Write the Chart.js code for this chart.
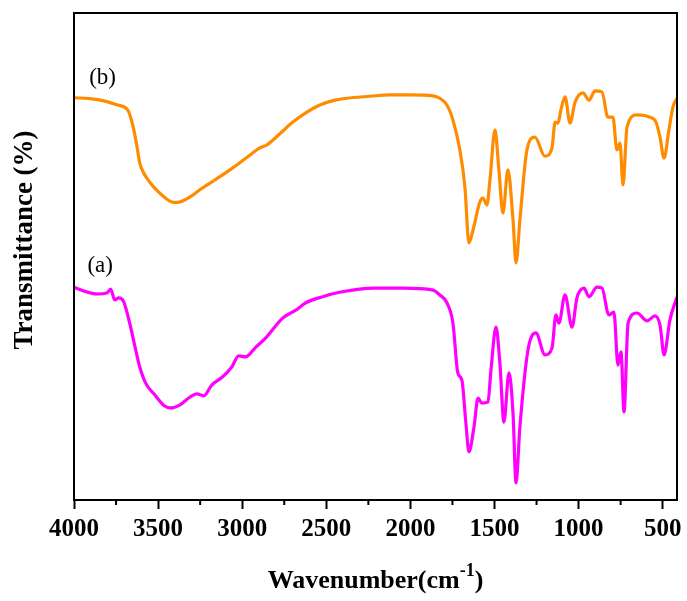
<!DOCTYPE html>
<html>
<head>
<meta charset="utf-8">
<title>FTIR spectra</title>
<script src="https://cdn.jsdelivr.net/npm/chart.js@4.4.1/dist/chart.umd.min.js"></script>
<style>
    html, body { margin: 0; padding: 0; background: #fff; }
    #wrap { width: 687px; height: 601px; }
</style>
</head>
<body>
<div id="wrap"><canvas id="ftirChart" width="687" height="601"></canvas></div>
<script>
// Spectrum (a) - magenta, lower trace
const waveA = [4000, 3942, 3900, 3859, 3805, 3782, 3758, 3734, 3704, 3669, 3633, 3609, 3574, 3520,
    3461, 3425, 3372, 3312, 3270, 3229, 3181, 3116, 3062, 3021, 2979, 2919, 2860, 2758, 2681, 2622,
    2527, 2414, 2217, 2039, 1866, 1825, 1783, 1747, 1718, 1694, 1670, 1652, 1622, 1598, 1575, 1539,
    1521, 1491, 1468, 1444, 1414, 1390, 1372, 1349, 1301, 1254, 1200, 1158, 1135, 1117, 1081, 1039,
    1010, 968, 938, 891, 861, 820, 790, 766, 748, 730, 706, 653, 593, 546, 516, 492, 457, 415];
const transA = [43.7, 42.9, 42.5, 42.3, 42.5, 43.3, 41.1, 41.5, 40.7, 36.3, 30.8, 27.3, 24.0, 21.6,
    19.3, 18.9, 19.5, 21.1, 21.8, 21.4, 23.6, 25.3, 27.3, 29.6, 29.4, 31.4, 33.3, 37.4, 39.0, 40.5,
    41.7, 42.7, 43.5, 43.5, 43.1, 42.1, 40.5, 36.3, 26.1, 24.6, 15.8, 9.9, 15.0, 20.9, 19.9, 20.1,
    26.7, 35.5, 28.1, 16.0, 26.1, 17.9, 3.5, 15.0, 30.8, 34.3, 29.8, 31.2, 38.0, 36.3, 42.1, 35.5,
    41.5, 43.5, 41.7, 43.7, 43.5, 38.0, 38.6, 27.7, 30.4, 18.1, 36.3, 38.4, 36.8, 37.8, 35.9, 29.8, 37.0, 41.7];

// Spectrum (b) - orange, upper trace
const waveB = [4000, 3907, 3817, 3740, 3681, 3651, 3627, 3609, 3585, 3567, 3532, 3490, 3449, 3419,
    3383, 3342, 3294, 3252, 3163, 3056, 2955, 2895, 2854, 2776, 2699, 2622, 2538, 2449, 2378, 2241,
    2122, 2003, 1866, 1825, 1783, 1747, 1706, 1676, 1652, 1628, 1587, 1569, 1545, 1527, 1497, 1474,
    1450, 1420, 1390, 1372, 1349, 1307, 1260, 1200, 1158, 1140, 1123, 1105, 1081, 1051, 1021, 974,
    938, 903, 861, 826, 796, 772, 754, 736, 712, 653, 575, 540, 516, 492, 463, 439, 415];
const transB = [82.6, 82.4, 81.9, 81.1, 80.1, 77.0, 72.9, 69.2, 67.1, 66.1, 64.5, 63.0, 61.8, 61.2,
    61.1, 61.6, 62.6, 63.7, 65.7, 68.2, 70.8, 72.3, 72.9, 75.2, 77.6, 79.5, 81.1, 82.1, 82.5, 82.9,
    83.2, 83.2, 83.0, 82.5, 81.1, 78.0, 71.9, 64.3, 52.8, 55.4, 61.2, 62.0, 60.6, 65.7, 76.0, 67.8,
    58.9, 67.8, 57.5, 48.7, 57.5, 71.9, 74.5, 70.6, 72.3, 77.6, 77.4, 80.1, 82.8, 77.4, 81.7, 83.6,
    82.1, 84.0, 83.8, 78.6, 78.6, 71.9, 73.3, 64.7, 76.6, 79.1, 78.6, 77.6, 74.5, 70.2, 76.0, 80.7, 82.5];

// Axis settings
const xMin = 415;
const xMax = 4000;
const majorTicks = [4000, 3500, 3000, 2500, 2000, 1500, 1000, 500];
const minorTicks = [3750, 3250, 2750, 2250, 1750, 1250, 750];

// Curve labels: [text, wavenumber, transmittance]
const curveLabels = [['(b)', 3910, 86.7], ['(a)', 3920, 48.0]];

function toPoints(xs, ys) {
    return xs.map((x, i) => ({ x: x, y: ys[i] }));
}

const serif = '"Liberation Serif", "Times New Roman", serif';

// Frame, minor ticks, axis titles and curve labels
const decorPlugin = {
    id: 'decor',
    afterDraw(chart) {
        const ctx = chart.ctx;
        const area = chart.chartArea;
        const xs = chart.scales.x;
        const ys = chart.scales.y;
        ctx.save();

        // box round the plot
        ctx.strokeStyle = '#000';
        ctx.lineWidth = 2;
        ctx.strokeRect(area.left, area.top, area.right - area.left, area.bottom - area.top);

        // minor ticks
        minorTicks.forEach(v => {
            const px = xs.getPixelForValue(v);
            ctx.beginPath();
            ctx.moveTo(px, area.bottom);
            ctx.lineTo(px, area.bottom + 5);
            ctx.stroke();
        });

        // curve labels
        ctx.fillStyle = '#000';
        ctx.font = '23px ' + serif;
        ctx.textAlign = 'left';
        ctx.textBaseline = 'middle';
        curveLabels.forEach(l => {
            ctx.fillText(l[0], xs.getPixelForValue(l[1]), ys.getPixelForValue(l[2]));
        });

        // x title with superscript
        const bigFont = 'bold 26px ' + serif;
        const supFont = 'bold 18px ' + serif;
        const main = 'Wavenumber(cm';
        const sup = '-1';
        const tail = ')';
        ctx.textBaseline = 'alphabetic';
        ctx.font = bigFont;
        const wMain = ctx.measureText(main).width;
        const wTail = ctx.measureText(tail).width;
        ctx.font = supFont;
        const wSup = ctx.measureText(sup).width;
        let tx = (area.left + area.right) / 2 - (wMain + wSup + wTail) / 2;
        const ty = 588;
        ctx.font = bigFont;
        ctx.fillText(main, tx, ty);
        tx += wMain;
        ctx.font = supFont;
        ctx.fillText(sup, tx, ty - 12);
        tx += wSup;
        ctx.font = bigFont;
        ctx.fillText(tail, tx, ty);

        // y title
        ctx.translate(25, 240);
        ctx.rotate(-Math.PI / 2);
        ctx.textAlign = 'center';
        ctx.textBaseline = 'middle';
        ctx.font = 'bold 27px ' + serif;
        ctx.fillText('Transmittance (%)', 0, 0);

        ctx.restore();
    }
};

const chart = new Chart(document.getElementById('ftirChart'), {
    type: 'line',
    data: {
        datasets: [{
            label: '(b)',
            data: toPoints(waveB, transB),
            borderColor: '#ff8c00',
            borderWidth: 3.2,
            pointRadius: 0,
            cubicInterpolationMode: 'monotone',
            fill: false
        }, {
            label: '(a)',
            data: toPoints(waveA, transA),
            borderColor: '#ff00ff',
            borderWidth: 3.2,
            pointRadius: 0,
            cubicInterpolationMode: 'monotone',
            fill: false
        }]
    },
    options: {
        responsive: false,
        animation: false,
        devicePixelRatio: 1,
        layout: {
            padding: { top: 13, right: 10, left: 0, bottom: 0 }
        },
        plugins: {
            legend: { display: false },
            tooltip: { enabled: false }
        },
        scales: {
            x: {
                type: 'linear',
                reverse: true,
                min: xMin,
                max: xMax,
                afterBuildTicks: function(scale) {
                    scale.ticks = majorTicks.map(v => ({ value: v }));
                },
                afterFit: function(scale) {
                    scale.height = 101;
                    scale.paddingLeft = 0;
                    scale.paddingRight = 0;
                },
                border: { display: true, color: '#000', width: 2 },
                grid: {
                    display: true,
                    drawOnChartArea: false,
                    drawTicks: true,
                    tickLength: 9,
                    tickWidth: 2,
                    tickColor: '#000'
                },
                ticks: {
                    autoSkip: false,
                    maxRotation: 0,
                    padding: 6,
                    color: '#000',
                    font: { family: serif, size: 25, weight: 'bold' },
                    callback: function(value) { return value; }
                }
            },
            y: {
                min: 0,
                max: 100,
                afterFit: function(scale) { scale.width = 74; },
                border: { display: true, color: '#000', width: 2 },
                grid: { display: false },
                ticks: { display: false }
            }
        }
    },
    plugins: [decorPlugin]
});
</script>
</body>
</html>
